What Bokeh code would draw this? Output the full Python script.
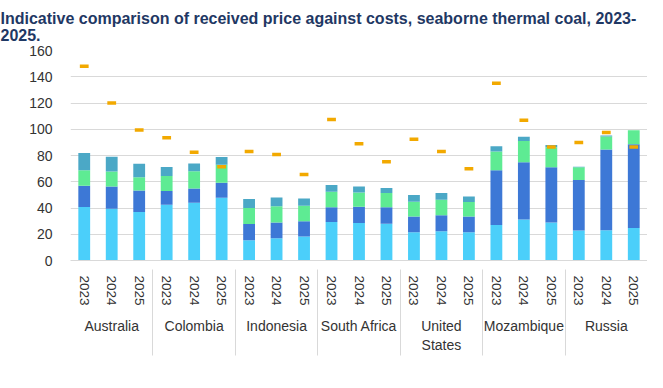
from math import pi
from bokeh.plotting import figure
from bokeh.models import (FactorRange, Range1d, CategoricalAxis, SingleIntervalTicker,
                          Legend, LegendItem, Label, ColumnDataSource)
from bokeh.embed import file_html
from bokeh.resources import INLINE

countries = ["Australia", "Colombia", "Indonesia", "South Africa", "United\nStates", "Mozambique", "Russia"]
years = ["2023", "2024", "2025"]

mining_opex = [40.8, 39.5, 37.0, 42.5, 44.0, 47.8, 15.5, 17.0, 18.3, 29.3, 28.5, 28.0,
               21.5, 22.3, 21.5, 27.0, 31.3, 29.0, 22.8, 23.0, 24.8]
transport_opex = [16.2, 16.8, 16.3, 10.5, 10.8, 11.5, 12.3, 12.0, 11.7, 11.2, 12.5, 12.5,
                  12.0, 12.2, 12.0, 41.8, 43.5, 42.0, 38.5, 61.5, 63.7]
capex = [11.8, 11.5, 10.2, 11.3, 13.2, 13.7, 12.2, 12.3, 11.8, 11.8, 10.8, 11.0,
         11.3, 11.8, 11.0, 14.2, 16.2, 15.3, 9.7, 10.0, 10.8]
royalties = [13.2, 11.2, 10.3, 7.0, 6.0, 5.8, 6.8, 6.7, 5.5, 5.2, 4.5, 3.8,
             5.2, 5.2, 4.3, 4.0, 3.3, 1.7, 0.5, 0.8, 0.0]
received_price = [148.0, 120.0, 99.5, 93.5, 82.5, 71.5, 83.0, 80.8, 65.5, 107.5, 89.0, 75.3,
                  92.3, 83.0, 70.0, 135.0, 106.8, 86.5, 90.0, 97.5, 86.5]

series_names = ["Mining OPEX", "Transport OPEX", "CAPEX", "Royalties"]
series_colors = ["#4BCFFA", "#3D78D6", "#5EEB93", "#4BA8C6"]
price_color = "#F2A900"
FONT = "Liberation Sans"
TXT = "#333333"
GRID = "#D9D9D9"

factors = [(c, y) for c in countries for y in years]
src = ColumnDataSource(data={
    "x": factors,
    "Mining OPEX": mining_opex,
    "Transport OPEX": transport_opex,
    "CAPEX": capex,
    "Royalties": royalties,
    "price": received_price,
})

x_range = FactorRange(*factors, group_padding=0, factor_padding=0, range_padding=0)
p = figure(frame_width=577, frame_height=210, x_range=x_range, y_range=Range1d(0, 160),
           output_backend="svg", toolbar_location=None,
           min_border_left=70, min_border_right=0, min_border_top=0, min_border_bottom=0)

p.title.text = "Indicative comparison of received price against costs, seaborne thermal coal, 2023-\n2025."
p.title.text_font = FONT
p.title.text_font_size = "16px"
p.title.text_font_style = "bold"
p.title.text_color = "#1F3864"
p.title.align = "left"
p.title.offset = -70
p.title.standoff = 14

bars = p.vbar_stack(series_names, x="x", width=0.43, source=src,
                    color=series_colors, line_color=None)
p.rect(x="x", y="price", width=0.32, height=3.5, height_units="screen",
       source=src, fill_color=price_color, line_color=None)

p.outline_line_color = None
p.xgrid.grid_line_color = None
p.ygrid.grid_line_color = GRID

ya = p.yaxis[0]
ya.ticker = SingleIntervalTicker(interval=20)
ya.axis_line_color = None
ya.major_tick_line_color = None
ya.minor_tick_line_color = None
ya.major_label_text_font = FONT
ya.major_label_text_font_size = "14px"
ya.major_label_text_color = TXT
ya.major_label_standoff = 12

xa = p.xaxis[0]
xa.axis_line_color = GRID
xa.major_tick_line_color = None
xa.separator_line_color = None
xa.major_label_orientation = "vertical"
xa.major_label_text_font = FONT
xa.major_label_text_font_size = "13.5px"
xa.major_label_text_color = TXT
xa.major_label_standoff = 9
xa.group_text_font = FONT
xa.group_text_font_size = "14px"
xa.group_text_font_style = "normal"
xa.group_text_color = TXT

# group boundary lines: one factor per boundary, range trimmed so the factors sit on the edges
bounds = ["b%d" % i for i in range(len(countries) + 1)]
p.extra_x_ranges = {"sep": FactorRange(*bounds, range_padding=-0.5, range_padding_units="absolute")}
sep = CategoricalAxis(x_range_name="sep", major_tick_in=86, major_tick_out=0,
                      axis_line_color=None, major_tick_line_color=GRID,
                      major_label_text_font_size="1px", major_label_text_alpha=0,
                      major_label_standoff=0)
p.add_layout(sep, "below")

p.add_layout(Label(x=-53, y=160, x_units="screen", y_units="data", text="USD/t", angle=pi / 2,
                   text_align="right", text_baseline="middle", text_font=FONT,
                   text_font_size="14px", text_color=TXT))

items = [LegendItem(label=nm, renderers=[r]) for nm, r in zip(series_names, bars)]
legend = Legend(items=items, orientation="horizontal", location="left",
                glyph_width=7, glyph_height=7, label_standoff=5, spacing=20,
                label_text_font=FONT, label_text_font_size="14px", label_text_color=TXT,
                border_line_color=None, background_fill_alpha=0, padding=0, margin=4)
p.add_layout(legend, "below")

open("out.html", "w").write(file_html(p, INLINE))
